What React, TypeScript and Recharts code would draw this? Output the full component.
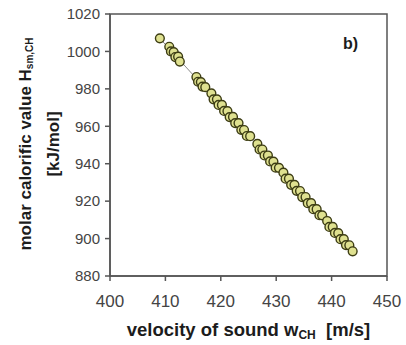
import React from "react";
import { Label, ReferenceArea, Scatter, ScatterChart, XAxis, YAxis } from "recharts";

// measured samples: velocity of sound [m/s] vs molar calorific value [kJ/mol]
const velocityCH = [
  409.0, 410.7, 411.0, 411.5, 411.8, 412.3, 412.6, 415.6, 415.9, 416.4, 416.7, 417.2, 418.3, 418.7, 419.3, 419.6,
  420.2, 420.6, 421.2, 421.6, 422.2, 422.6, 423.2, 423.7, 424.2, 424.7, 425.3, 426.6, 427.0, 427.5, 427.9, 428.5,
  428.9, 429.5, 429.9, 430.5, 431.3, 431.7, 432.3, 432.7, 433.3, 433.7, 434.3, 434.7, 435.3, 435.7, 436.3, 436.7,
  437.3, 437.8, 438.3, 439.2, 439.6, 440.2, 440.6, 441.2, 441.6, 442.2, 442.6, 443.2, 443.8,
];
const calorificH = [
  1007.0, 1002.5, 1000.0, 999.6, 997.0, 997.2, 994.6, 986.3, 983.8, 983.6, 981.2, 980.9, 977.6, 974.4, 974.4, 971.4,
  971.4, 968.2, 968.1, 964.9, 965.0, 961.7, 961.7, 958.1, 958.0, 954.8, 954.7, 950.6, 947.6, 947.6, 944.4, 944.4,
  941.2, 941.1, 937.9, 937.8, 935.2, 932.0, 932.0, 928.7, 928.7, 925.5, 925.4, 922.2, 922.2, 918.9, 918.9, 915.7,
  915.7, 912.5, 912.4, 909.4, 906.2, 906.2, 903.0, 902.9, 899.7, 899.7, 896.5, 896.4, 893.2,
];
const fitVelocity = [408.8, 444.2];
const fitCalorific = [1007.6, 892.6];
const xTicks = [400, 410, 420, 430, 440, 450];
const yTicks = [880, 900, 920, 940, 960, 980, 1000, 1020];

const points = velocityCH.map((w, i) => ({ w, h: calorificH[i] }));
const fit = fitVelocity.map((w, i) => ({ w, h: fitCalorific[i] }));

const FONT = "'Liberation Sans', Arial, sans-serif";

const Dot = (p: any) => (
  <circle cx={p.cx} cy={p.cy} r={4.4} fill="#dfe190" stroke="#3d3d14" strokeWidth={1.4} />
);

export default function App() {
  return (
    <div style={{ position: "absolute", left: 0, top: 0, background: "#fff" }}>
      <ScatterChart width={406} height={345} margin={{ top: 14, right: 19, bottom: 9, left: 0 }}>
        <XAxis
          type="number"
          dataKey="w"
          domain={[400, 450]}
          ticks={xTicks}
          height={60}
          stroke="#555"
          strokeWidth={1.5}
          tickSize={5}
          tickMargin={14}
          tick={{ fontSize: 17, fill: "#444", fontFamily: FONT }}
        >
          <Label
            content={(props: any) => {
              const vb = props.viewBox;
              return (
                <text
                  x={vb.x + vb.width / 2}
                  y={vb.y + 60}
                  textAnchor="middle"
                  fontFamily={FONT}
                  fontWeight="bold"
                  fontSize={18.5}
                  fill="#1c1c1c"
                >
                  velocity of sound w
                  <tspan fontSize={12} dy={3}>CH</tspan>
                  <tspan dy={-3}>{"\u00a0\u00a0[m/s]"}</tspan>
                </text>
              );
            }}
          />
        </XAxis>
        <YAxis
          type="number"
          dataKey="h"
          domain={[880, 1020]}
          ticks={yTicks}
          width={110}
          stroke="#555"
          strokeWidth={1.5}
          tickSize={5}
          tickMargin={5}
          tick={{ fontSize: 15, fill: "#444", fontFamily: FONT }}
        >
          <Label
            content={(props: any) => {
              const vb = props.viewBox;
              const cy = vb.y + vb.height / 2 - 1;
              return (
                <g fontFamily={FONT} fontWeight="bold" fontSize={17} fill="#1c1c1c">
                  <text x={25} y={cy} textAnchor="middle" dominantBaseline="central" transform={`rotate(-90 25 ${cy})`}>
                    molar calorific value H
                    <tspan fontSize={10} dy={4}>sm,CH</tspan>
                  </text>
                  <text x={53} y={cy} textAnchor="middle" dominantBaseline="central" transform={`rotate(-90 53 ${cy})`}>
                    [kJ/mol]
                  </text>
                </g>
              );
            }}
          />
        </YAxis>
        <ReferenceArea x1={400} x2={450} y1={880} y2={1020} fill="none" stroke="#555" strokeWidth={1.5}>
          <Label
            content={(props: any) => {
              const vb = props.viewBox;
              return (
                <text
                  x={vb.x + vb.width - 29}
                  y={vb.y + 35}
                  textAnchor="end"
                  fontFamily={FONT}
                  fontWeight="bold"
                  fontSize={16}
                  fill="#1c1c1c"
                >
                  b)
                </text>
              );
            }}
          />
        </ReferenceArea>
        <Scatter
          data={fit}
          line={{ stroke: "#8a8a8a", strokeWidth: 1 }}
          shape={() => <g />}
          isAnimationActive={false}
        />
        <Scatter data={points} shape={Dot} isAnimationActive={false} />
      </ScatterChart>
    </div>
  );
}
